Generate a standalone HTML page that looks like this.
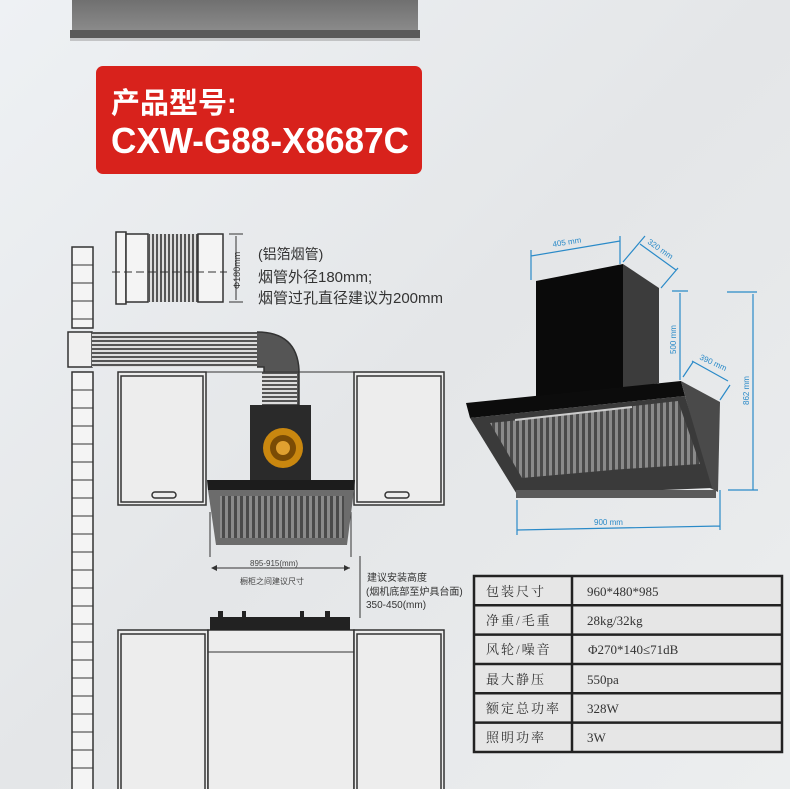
<!DOCTYPE html>
<html><head><meta charset="utf-8"><style>
body{margin:0;width:790px;height:789px;overflow:hidden;background:#e9ebed;font-family:"Liberation Sans","Noto Sans CJK SC",sans-serif}
svg{display:block}
</style></head><body>
<svg width="790" height="789" viewBox="0 0 790 789" xmlns="http://www.w3.org/2000/svg">
<defs>
<linearGradient id="bg" x1="0" y1="0" x2="1" y2="1"><stop offset="0" stop-color="#eef1f4"/><stop offset="0.5" stop-color="#e4e6e8"/><stop offset="1" stop-color="#eceeef"/></linearGradient>
<linearGradient id="sh" x1="0" y1="0" x2="0" y2="1"><stop offset="0" stop-color="#707070"/><stop offset="1" stop-color="#8a8a8a"/></linearGradient>
<pattern id="rib" width="4" height="10" patternUnits="userSpaceOnUse"><rect width="4" height="10" fill="#ddd"/><rect width="2" height="10" fill="#555"/></pattern>
<pattern id="ribh" width="10" height="4" patternUnits="userSpaceOnUse"><rect width="10" height="4" fill="#ddd"/><rect width="10" height="2" fill="#555"/></pattern>
<pattern id="fil" width="6" height="10" patternUnits="userSpaceOnUse"><rect width="6" height="10" fill="#8a8a8a"/><rect width="3" height="10" fill="#4a4a4a"/></pattern>
</defs>
<rect width="790" height="789" fill="url(#bg)"/>
<!-- top shelf -->
<rect x="72" y="0" width="346" height="30" fill="url(#sh)"/>
<rect x="70" y="30" width="350" height="8" fill="#5a5a5a"/>
<rect x="70" y="38" width="350" height="3" fill="#999" opacity="0.5"/>
<!-- red label -->
<rect x="96" y="66" width="326" height="108" rx="7" fill="#d8221c"/>
<text x="111" y="113" font-size="29" font-weight="bold" fill="#fff">产品型号:</text>
<text x="111" y="153" font-size="36" font-weight="bold" fill="#fff" textLength="298" lengthAdjust="spacingAndGlyphs">CXW-G88-X8687C</text>

<!-- left diagram -->
<g stroke="#333" stroke-width="1.5" fill="none">
<rect x="72" y="247" width="21" height="81" fill="#f4f4f4"/>
<rect x="72" y="372" width="21" height="420" fill="#f4f4f4"/>
<path d="M72 265h21M72 283h21M72 301h21M72 319h21M72 390h21M72 408h21M72 426h21M72 444h21M72 462h21M72 480h21M72 498h21M72 516h21M72 534h21M72 552h21M72 570h21M72 588h21M72 606h21M72 624h21M72 642h21M72 660h21M72 678h21M72 696h21M72 714h21M72 732h21M72 750h21M72 768h21" stroke-width="1"/>
<rect x="116" y="232" width="10" height="72" fill="#f4f4f4"/>
<rect x="126" y="234" width="22" height="68" fill="#f4f4f4"/>
<rect x="148" y="234" width="50" height="68" fill="url(#rib)" stroke="none"/>
<rect x="198" y="234" width="25" height="68" fill="#f4f4f4"/>
<path d="M112 272h115" stroke-dasharray="8 4" stroke-width="1"/>
<path d="M229 234h14M229 302h14M236 236v64" stroke-width="1"/>
<rect x="68" y="332" width="24" height="35" fill="#f0f0f0"/>
<rect x="92" y="332" width="165" height="35" fill="url(#ribh)" stroke="none"/>
<path d="M257 332 q40 0 42 38 v35 h-35 v-38 h-7" fill="#555" stroke="#333"/>
<rect x="262" y="372" width="35" height="35" fill="url(#ribh)" stroke="none"/>
<rect x="118" y="372" width="88" height="133" fill="#ededed"/>
<rect x="121" y="376" width="82" height="126"/>
<rect x="152" y="492" width="24" height="6" rx="3"/>
<rect x="354" y="372" width="90" height="133" fill="#ededed"/>
<rect x="357" y="376" width="84" height="126"/>
<rect x="385" y="492" width="24" height="6" rx="3"/>
<path d="M206 372h148" stroke-width="1"/>
<rect x="118" y="630" width="90" height="165" fill="#ededed"/>
<rect x="121" y="634" width="84" height="160"/>
<rect x="208" y="630" width="146" height="165" fill="#ededed"/>
<rect x="354" y="630" width="90" height="165" fill="#ededed"/>
<rect x="357" y="634" width="84" height="160"/>
<path d="M208 652h146" stroke-width="1"/>
<path d="M210 512v45M351 512v45" stroke-width="1"/>
</g>
<rect x="250" y="405" width="61" height="75" fill="#2a2a2a"/>
<circle cx="283" cy="448" r="20" fill="#c9870f"/>
<circle cx="283" cy="448" r="13" fill="#7a4b05"/>
<circle cx="283" cy="448" r="7" fill="#e0a030"/>
<polygon points="207,480 355,480 354,490 208,490" fill="#1c1c1c"/>
<polygon points="208,490 354,490 347,545 216,545" fill="#6c6c6c"/>
<rect x="220" y="496" width="124" height="42" fill="url(#fil)"/>
<rect x="210" y="617" width="140" height="13" fill="#222"/>
<rect x="218" y="611" width="5" height="6" fill="#222"/><rect x="242" y="611" width="4" height="6" fill="#222"/><rect x="300" y="611" width="4" height="6" fill="#222"/><rect x="325" y="611" width="5" height="6" fill="#222"/>
<g stroke="#333" stroke-width="1"><path d="M212 568h138"/><path d="M360 556v62"/></g>
<polygon points="211,568 217,565 217,571" fill="#333"/><polygon points="350,568 344,565 344,571" fill="#333"/>
<text x="250" y="566" font-size="8" fill="#444">895-915(mm)</text>
<text x="240" y="584" font-size="8" fill="#444">橱柜之间建议尺寸</text>
<text x="367" y="581" font-size="10" fill="#333">建议安装高度</text>
<text x="366" y="595" font-size="10" fill="#333">(烟机底部至炉具台面)</text>
<text x="366" y="608" font-size="10" fill="#333">350-450(mm)</text>
<text x="240" y="289" font-size="9" fill="#333" transform="rotate(-90 240 289)">Φ180mm</text>
<text x="258" y="259" font-size="14" fill="#333">(铝箔烟管)</text>
<text x="258" y="282" font-size="15" fill="#333">烟管外径180mm;</text>
<text x="258" y="303" font-size="15" fill="#333">烟管过孔直径建议为200mm</text>

<!-- right hood -->
<polygon points="536,281 623,264 623,390 536,400" fill="#0a0a0a"/>
<polygon points="623,264 659,288 659,383 623,390" fill="#3c3c3c"/>
<polygon points="466,403 681,381 685,396 470,418" fill="#0c0c0c"/>
<polygon points="681,381 720,402 718,492 710,488" fill="#4a4a4a"/>
<polygon points="470,418 685,396 712,488 518,496" fill="#3a3a3a"/>
<polygon points="490,423 598,412 612,470 522,478" fill="url(#fil)"/>
<polygon points="590,411 678,401 700,464 610,470" fill="url(#fil)"/>
<rect x="516" y="490" width="200" height="8" fill="#5a5a5a"/>
<path d="M515 420 L632 407" stroke="#ccc" stroke-width="2"/>
<g stroke="#2a8ac8" stroke-width="1.2" fill="none">
<path d="M531 256L620 241M531 250v30M620 236v28"/>
<path d="M640 244L676 270M623 262L645 236M661 288L678 268"/>
<path d="M680 293v87M672 291h16"/>
<path d="M692 361L728 381M683 377L693 362M720 400L730 385"/>
<path d="M753 294v196M727 292h30M728 490h30"/>
<path d="M517 530L720 526M517 500v35M720 490v40"/>
</g>
<text x="553" y="247" font-size="8" fill="#2a8ac8" transform="rotate(-9 553 247)">405 mm</text>
<text x="647" y="243" font-size="8" fill="#2a8ac8" transform="rotate(35 647 243)">320 mm</text>
<text x="676" y="354" font-size="8" fill="#2a8ac8" transform="rotate(-90 676 354)">500 mm</text>
<text x="699" y="359" font-size="8" fill="#2a8ac8" transform="rotate(25 699 359)">390 mm</text>
<text x="749" y="405" font-size="8" fill="#2a8ac8" transform="rotate(-90 749 405)">862 mm</text>
<text x="594" y="525" font-size="8" fill="#2a8ac8">900 mm</text>

<g fill="none" stroke="#222" stroke-width="2.5">
<rect x="474" y="576" width="308" height="176" fill="#e6e6e6"/>
<path d="M572 576v176M474 605.3h308M474 634.6h308M474 664h308M474 693.3h308M474 722.6h308"/>
</g>
<g font-family="'Liberation Serif','Noto Serif CJK SC',serif" font-size="13" fill="#333">
<text x="486" y="596" letter-spacing="2">包装尺寸</text><text x="587" y="596">960*480*985</text>
<text x="486" y="625" letter-spacing="2">净重/毛重</text><text x="587" y="625">28kg/32kg</text>
<text x="486" y="654" letter-spacing="2">风轮/噪音</text><text x="588" y="654">Φ270*140≤71dB</text>
<text x="486" y="684" letter-spacing="2">最大静压</text><text x="587" y="684">550pa</text>
<text x="486" y="713" letter-spacing="2">额定总功率</text><text x="587" y="713">328W</text>
<text x="486" y="742" letter-spacing="2">照明功率</text><text x="587" y="742">3W</text>
</g>
</svg>
</body></html>
